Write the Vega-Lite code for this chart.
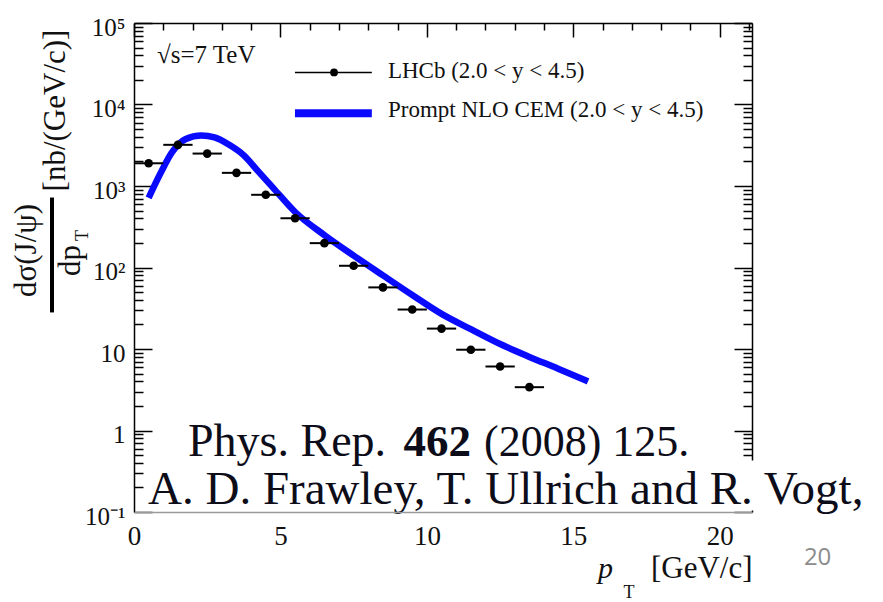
{
  "$schema": "https://vega.github.io/schema/vega-lite/v6.json",
  "width": 618,
  "height": 489,
  "autosize": {"type": "none"},
  "padding": {"left": 134, "top": 23, "right": 131, "bottom": 90},
  "background": "white",
  "config": {"view": {"stroke": null}, "font": "Liberation Serif"},
  "data": {"values": [{"k": 1}]},
  "datasets": {
    "curve": [
      {"pt": 0.5, "sigma": 716}, {"pt": 0.9, "sigma": 1420}, {"pt": 1.3, "sigma": 2600},
      {"pt": 1.75, "sigma": 3750}, {"pt": 2.3, "sigma": 4170}, {"pt": 2.75, "sigma": 3950},
      {"pt": 3.25, "sigma": 3200}, {"pt": 3.75, "sigma": 2380}, {"pt": 4.25, "sigma": 1500},
      {"pt": 4.75, "sigma": 950}, {"pt": 5.5, "sigma": 480}, {"pt": 6.5, "sigma": 250},
      {"pt": 7.5, "sigma": 140}, {"pt": 8.5, "sigma": 80}, {"pt": 9.5, "sigma": 46},
      {"pt": 10.5, "sigma": 27}, {"pt": 11.5, "sigma": 17.5}, {"pt": 12.5, "sigma": 11.5},
      {"pt": 13.5, "sigma": 8}, {"pt": 14.5, "sigma": 5.7}, {"pt": 15.5, "sigma": 4.0}
    ],
    "lhcb": [
      {"pt": 0.5, "lo": 0, "hi": 1, "sigma": 1900},
      {"pt": 1.5, "lo": 1, "hi": 2, "sigma": 3200},
      {"pt": 2.5, "lo": 2, "hi": 3, "sigma": 2500},
      {"pt": 3.5, "lo": 3, "hi": 4, "sigma": 1450},
      {"pt": 4.5, "lo": 4, "hi": 5, "sigma": 780},
      {"pt": 5.5, "lo": 5, "hi": 6, "sigma": 402},
      {"pt": 6.5, "lo": 6, "hi": 7, "sigma": 199},
      {"pt": 7.5, "lo": 7, "hi": 8, "sigma": 105},
      {"pt": 8.5, "lo": 8, "hi": 9, "sigma": 57},
      {"pt": 9.5, "lo": 9, "hi": 10, "sigma": 30.5},
      {"pt": 10.5, "lo": 10, "hi": 11, "sigma": 17.8},
      {"pt": 11.5, "lo": 11, "hi": 12, "sigma": 9.8},
      {"pt": 12.5, "lo": 12, "hi": 13, "sigma": 6.1},
      {"pt": 13.5, "lo": 13, "hi": 14, "sigma": 3.4}
    ]
  },
  "layer": [
    {
      "data": {"name": "curve"},
      "mark": {"type": "point", "opacity": 0},
      "encoding": {
        "x": {"field": "pt", "type": "quantitative", "scale": {"domain": [0, 21.1], "nice": false, "zero": false},
          "axis": {"orient": "top", "values": [0,1,2,3,4,5,6,7,8,9,10,11,12,13,14,15,16,17,18,19,20,21],
            "tickSize": {"condition": {"test": "datum.value % 5 === 0", "value": -14}, "value": -7},
            "labels": false, "title": null, "grid": false, "domainColor": "black", "domainWidth": 1.5,
            "tickColor": "black", "tickWidth": 1.5}},
        "y": {"field": "sigma", "type": "quantitative", "scale": {"type": "log", "domain": [0.1, 100000], "nice": false},
          "axis": {"orient": "right", "values": [0.1,0.2,0.3,0.4,0.5,0.6,0.7,0.8,0.9,1,2,3,4,5,6,7,8,9,10,20,30,40,50,60,70,80,90,100,200,300,400,500,600,700,800,900,1000,2000,3000,4000,5000,6000,7000,8000,9000,10000,20000,30000,40000,50000,60000,70000,80000,90000,100000],
            "tickSize": {"condition": {"test": "abs(log(datum.value)/LN10 - round(log(datum.value)/LN10)) < 0.000001", "value": -18}, "value": -9},
            "labels": false, "title": null, "grid": false, "domainColor": "black", "domainWidth": 1.5,
            "tickColor": "black", "tickWidth": 1.5}}
      }
    },
    {
      "data": {"name": "curve"},
      "mark": {"type": "line", "color": "#0a0aff", "strokeWidth": 6.5, "interpolate": "monotone"},
      "encoding": {
        "x": {"field": "pt", "type": "quantitative", "scale": {"domain": [0, 21.1], "nice": false, "zero": false},
          "axis": {"orient": "bottom", "values": [0, 5, 10, 15, 20], "ticks": false, "grid": false,
            "domainColor": "#9a9a9a", "domainWidth": 1.5, "zindex": 1,
            "labelFont": "Liberation Serif", "labelFontSize": 27, "labelColor": "#111", "labelPadding": 11, "labelFlush": false,
            "title": "[GeV/c]", "titleFont": "Liberation Serif", "titleFontSize": 31, "titleFontWeight": "normal", "titleColor": "#111",
            "titleAnchor": "end", "titleAlign": "right", "titleBaseline": "alphabetic", "titleX": 618, "titleY": 65}},
        "y": {"field": "sigma", "type": "quantitative", "scale": {"type": "log", "domain": [0.1, 100000], "nice": false},
          "axis": {"orient": "left", "values": [0.1,0.2,0.3,0.4,0.5,0.6,0.7,0.8,0.9,1,2,3,4,5,6,7,8,9,10,20,30,40,50,60,70,80,90,100,200,300,400,500,600,700,800,900,1000,2000,3000,4000,5000,6000,7000,8000,9000,10000,20000,30000,40000,50000,60000,70000,80000,90000,100000],
            "tickSize": {"condition": {"test": "abs(log(datum.value)/LN10 - round(log(datum.value)/LN10)) < 0.000001", "value": -18}, "value": -9},
            "tickColor": "black", "tickWidth": 1.5, "domainColor": "black", "domainWidth": 1.5, "grid": false,
            "labelExpr": "datum.value == 100000 ? '10⁵' : datum.value == 10000 ? '10⁴' : datum.value == 1000 ? '10³' : datum.value == 100 ? '10²' : datum.value == 10 ? '10' : datum.value == 1 ? '1' : datum.value == 0.1 ? '10⁻¹' : ''",
            "labelFont": "Liberation Serif", "labelFontSize": 25, "labelColor": "#111", "labelPadding": 27, "labelOffset": 4,
            "labelOverlap": false, "labelBound": false, "labelFlush": false, "labelBaseline": "middle",
            "title": "[nb/(GeV/c)]", "titleFont": "Liberation Serif", "titleFontSize": 31, "titleFontWeight": "normal", "titleColor": "#111",
            "titleAngle": 270, "titleX": -79, "titleY": 87, "titleAlign": "center", "titleBaseline": "middle"}}
      }
    },
    {
      "data": {"name": "lhcb"},
      "mark": {"type": "rule", "color": "black", "strokeWidth": 2},
      "encoding": {
        "x": {"field": "lo", "type": "quantitative", "scale": {"domain": [0, 21.1], "nice": false, "zero": false}, "axis": null},
        "x2": {"field": "hi"},
        "y": {"field": "sigma", "type": "quantitative", "scale": {"type": "log", "domain": [0.1, 100000], "nice": false}, "axis": null}
      }
    },
    {
      "data": {"name": "lhcb"},
      "mark": {"type": "point", "filled": true, "color": "black", "size": 75, "opacity": 1},
      "encoding": {
        "x": {"field": "pt", "type": "quantitative", "scale": {"domain": [0, 21.1], "nice": false, "zero": false}, "axis": null},
        "y": {"field": "sigma", "type": "quantitative", "scale": {"type": "log", "domain": [0.1, 100000], "nice": false}, "axis": null}
      }
    },
    {
      "mark": {"type": "rect", "color": "white", "clip": false},
      "encoding": {
        "x": {"datum": 0.41, "type": "quantitative", "scale": {"domain": [0, 21.1], "nice": false, "zero": false}, "axis": null},
        "x2": {"datum": 25.6},
        "y": {"datum": 0.428, "type": "quantitative", "scale": {"type": "log", "domain": [0.1, 100000], "nice": false}, "axis": null},
        "y2": {"datum": 0.1043}
      }
    },
    {
      "mark": {"type": "text", "text": "√s=7 TeV", "font": "Liberation Serif", "fontSize": 25, "align": "left", "baseline": "alphabetic", "color": "#111"},
      "encoding": {
        "x": {"datum": 0.785, "type": "quantitative", "scale": {"domain": [0, 21.1], "nice": false, "zero": false}, "axis": null},
        "y": {"datum": 31850, "type": "quantitative", "scale": {"type": "log", "domain": [0.1, 100000], "nice": false}, "axis": null}
      }
    },
    {
      "mark": {"type": "rule", "color": "black", "strokeWidth": 1.5},
      "encoding": {
        "x": {"datum": 5.495, "type": "quantitative", "scale": {"domain": [0, 21.1], "nice": false, "zero": false}, "axis": null},
        "x2": {"datum": 8.12},
        "y": {"datum": 24700, "type": "quantitative", "scale": {"type": "log", "domain": [0.1, 100000], "nice": false}, "axis": null}
      }
    },
    {
      "mark": {"type": "point", "filled": true, "color": "black", "size": 60, "opacity": 1},
      "encoding": {
        "x": {"datum": 6.83, "type": "quantitative", "scale": {"domain": [0, 21.1], "nice": false, "zero": false}, "axis": null},
        "y": {"datum": 24700, "type": "quantitative", "scale": {"type": "log", "domain": [0.1, 100000], "nice": false}, "axis": null}
      }
    },
    {
      "mark": {"type": "text", "text": "LHCb (2.0 < y < 4.5)", "font": "Liberation Serif", "fontSize": 23, "align": "left", "baseline": "alphabetic", "color": "#111"},
      "encoding": {
        "x": {"datum": 8.67, "type": "quantitative", "scale": {"domain": [0, 21.1], "nice": false, "zero": false}, "axis": null},
        "y": {"datum": 21300, "type": "quantitative", "scale": {"type": "log", "domain": [0.1, 100000], "nice": false}, "axis": null}
      }
    },
    {
      "mark": {"type": "rule", "color": "#0a0aff", "strokeWidth": 8},
      "encoding": {
        "x": {"datum": 5.495, "type": "quantitative", "scale": {"domain": [0, 21.1], "nice": false, "zero": false}, "axis": null},
        "x2": {"datum": 8.12},
        "y": {"datum": 7800, "type": "quantitative", "scale": {"type": "log", "domain": [0.1, 100000], "nice": false}, "axis": null}
      }
    },
    {
      "mark": {"type": "text", "text": "Prompt NLO CEM (2.0 < y < 4.5)", "font": "Liberation Serif", "fontSize": 23, "align": "left", "baseline": "alphabetic", "color": "#111"},
      "encoding": {
        "x": {"datum": 8.67, "type": "quantitative", "scale": {"domain": [0, 21.1], "nice": false, "zero": false}, "axis": null},
        "y": {"datum": 6980, "type": "quantitative", "scale": {"type": "log", "domain": [0.1, 100000], "nice": false}, "axis": null}
      }
    },
    {
      "mark": {"type": "text", "text": "Phys. Rep.", "font": "Liberation Serif", "fontSize": 46, "align": "left", "baseline": "alphabetic", "color": "#0d0d1a"},
      "encoding": {
        "x": {"datum": 1.843, "type": "quantitative", "scale": {"domain": [0, 21.1], "nice": false, "zero": false}, "axis": null},
        "y": {"datum": 0.493, "type": "quantitative", "scale": {"type": "log", "domain": [0.1, 100000], "nice": false}, "axis": null}
      }
    },
    {
      "mark": {"type": "text", "text": "462", "font": "Liberation Serif", "fontSize": 45, "fontWeight": "bold", "align": "left", "baseline": "alphabetic", "color": "#0d0d1a"},
      "encoding": {
        "x": {"datum": 9.2, "type": "quantitative", "scale": {"domain": [0, 21.1], "nice": false, "zero": false}, "axis": null},
        "y": {"datum": 0.493, "type": "quantitative", "scale": {"type": "log", "domain": [0.1, 100000], "nice": false}, "axis": null}
      }
    },
    {
      "mark": {"type": "text", "text": "(2008) 125.", "font": "Liberation Serif", "fontSize": 44, "align": "left", "baseline": "alphabetic", "color": "#0d0d1a"},
      "encoding": {
        "x": {"datum": 11.95, "type": "quantitative", "scale": {"domain": [0, 21.1], "nice": false, "zero": false}, "axis": null},
        "y": {"datum": 0.493, "type": "quantitative", "scale": {"type": "log", "domain": [0.1, 100000], "nice": false}, "axis": null}
      }
    },
    {
      "mark": {"type": "text", "text": "A. D. Frawley, T. Ullrich and R. Vogt,", "font": "Liberation Serif", "fontSize": 47, "align": "left", "baseline": "alphabetic", "color": "#0d0d1a"},
      "encoding": {
        "x": {"datum": 0.478, "type": "quantitative", "scale": {"domain": [0, 21.1], "nice": false, "zero": false}, "axis": null},
        "y": {"datum": 0.126, "type": "quantitative", "scale": {"type": "log", "domain": [0.1, 100000], "nice": false}, "axis": null}
      }
    },
    {
      "mark": {"type": "text", "text": "20", "font": "Open Sans", "fontSize": 24, "align": "center", "baseline": "alphabetic", "color": "#8c8c8c"},
      "encoding": {
        "x": {"datum": 23.34, "type": "quantitative", "scale": {"domain": [0, 21.1], "nice": false, "zero": false}, "axis": null},
        "y": {"datum": 0.0221, "type": "quantitative", "scale": {"type": "log", "domain": [0.1, 100000], "nice": false}, "axis": null}
      }
    },
    {
      "mark": {"type": "text", "text": "dσ(J/ψ)", "font": "Liberation Serif", "fontSize": 31, "angle": 270, "align": "center", "baseline": "middle", "color": "#111"},
      "encoding": {
        "x": {"datum": -3.652, "type": "quantitative", "scale": {"domain": [0, 21.1], "nice": false, "zero": false}, "axis": null},
        "y": {"datum": 161.8, "type": "quantitative", "scale": {"type": "log", "domain": [0.1, 100000], "nice": false}, "axis": null}
      }
    },
    {
      "mark": {"type": "rule", "color": "black", "strokeWidth": 4},
      "encoding": {
        "x": {"datum": -2.799, "type": "quantitative", "scale": {"domain": [0, 21.1], "nice": false, "zero": false}, "axis": null},
        "y": {"datum": 722, "type": "quantitative", "scale": {"type": "log", "domain": [0.1, 100000], "nice": false}, "axis": null},
        "y2": {"datum": 28.1}
      }
    },
    {
      "mark": {"type": "text", "text": "dp", "font": "Liberation Serif", "fontSize": 31, "angle": 270, "align": "center", "baseline": "alphabetic", "color": "#111"},
      "encoding": {
        "x": {"datum": -1.843, "type": "quantitative", "scale": {"domain": [0, 21.1], "nice": false, "zero": false}, "axis": null},
        "y": {"datum": 122, "type": "quantitative", "scale": {"type": "log", "domain": [0.1, 100000], "nice": false}, "axis": null}
      }
    },
    {
      "mark": {"type": "text", "text": "T", "font": "Liberation Serif", "fontSize": 18, "angle": 270, "align": "center", "baseline": "alphabetic", "color": "#111"},
      "encoding": {
        "x": {"datum": -1.57, "type": "quantitative", "scale": {"domain": [0, 21.1], "nice": false, "zero": false}, "axis": null},
        "y": {"datum": 247, "type": "quantitative", "scale": {"type": "log", "domain": [0.1, 100000], "nice": false}, "axis": null}
      }
    },
    {
      "mark": {"type": "text", "text": "p", "font": "Liberation Serif", "fontSize": 30, "fontStyle": "italic", "align": "left", "baseline": "alphabetic", "color": "#111"},
      "encoding": {
        "x": {"datum": 15.84, "type": "quantitative", "scale": {"domain": [0, 21.1], "nice": false, "zero": false}, "axis": null},
        "y": {"datum": 0.0157, "type": "quantitative", "scale": {"type": "log", "domain": [0.1, 100000], "nice": false}, "axis": null}
      }
    },
    {
      "mark": {"type": "text", "text": "T", "font": "Liberation Serif", "fontSize": 18, "align": "center", "baseline": "alphabetic", "color": "#111"},
      "encoding": {
        "x": {"datum": 16.9, "type": "quantitative", "scale": {"domain": [0, 21.1], "nice": false, "zero": false}, "axis": null},
        "y": {"datum": 0.00893, "type": "quantitative", "scale": {"type": "log", "domain": [0.1, 100000], "nice": false}, "axis": null}
      }
    }
  ],
  "resolve": {"axis": {"x": "independent", "y": "independent"}}
}
